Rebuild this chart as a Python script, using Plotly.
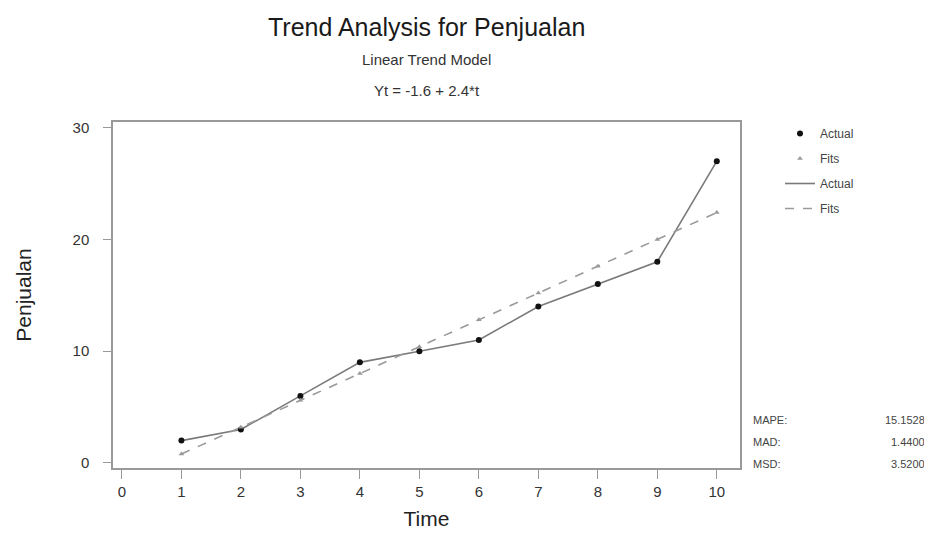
import plotly.graph_objects as go

time = [1, 2, 3, 4, 5, 6, 7, 8, 9, 10]
actual = [2, 3, 6, 9, 10, 11, 14, 16, 18, 27]
fits = [0.8, 3.2, 5.6, 8.0, 10.4, 12.8, 15.2, 17.6, 20.0, 22.4]
x_ticks = [0, 1, 2, 3, 4, 5, 6, 7, 8, 9, 10]
y_ticks = [0, 10, 20, 30]
stat_names = ["MAPE:", "MAD:", "MSD:"]
stat_values = ["15.1528", "1.4400", "3.5200"]

FONT = "Arial, Liberation Sans, sans-serif"
OFF = 8  # page body margin
W, H = 932 - OFF, 534 - OFF
# plot area in window pixels: x 113..740, y 122..468
L, T = 113 - OFF, 122 - OFF
R, B = W - (740 - OFF), H - (468 - OFF)
pw, ph = W - L - R, H - T - B


def xpix(p):
    return (p - OFF - L) / pw


def ypix(p):
    return 1 + (T - (p - OFF)) / ph


fig = go.Figure()
fig.add_trace(go.Scatter(x=time, y=actual, mode="lines", name="Actual",
                         line=dict(color="#7a7a7a", width=1.6), legendgroup="c", legendrank=3))
fig.add_trace(go.Scatter(x=time, y=fits, mode="lines", name="Fits",
                         line=dict(color="#9a9a9a", width=1.6, dash="dash"), legendgroup="d", legendrank=4))
fig.add_trace(go.Scatter(x=time, y=actual, mode="markers", name="Actual",
                         marker=dict(color="#111111", size=6, symbol="circle"), legendgroup="a", legendrank=1))
fig.add_trace(go.Scatter(x=time, y=fits, mode="markers", name="Fits",
                         marker=dict(color="#999999", size=5, symbol="triangle-up"), legendgroup="b", legendrank=2))

ann = [
    dict(text="Trend Analysis for Penjualan", y=ypix(27), font=dict(size=25, color="#1a1a1a", family=FONT)),
    dict(text="Linear Trend Model", y=ypix(59), font=dict(size=15, color="#333", family=FONT)),
    dict(text="Yt = -1.6 + 2.4*t", y=ypix(90), font=dict(size=15, color="#333", family=FONT)),
]
for a in ann:
    a.update(xref="paper", x=0.5, yref="paper", showarrow=False, xanchor="center", yanchor="middle")
for i, (n, v) in enumerate(zip(stat_names, stat_values)):
    yy = ypix(420 + 22 * i)
    ann.append(dict(text=n, xref="paper", x=xpix(751), yref="paper", y=yy, showarrow=False,
                    font=dict(size=11, color="#444", family=FONT), xanchor="left", yanchor="middle"))
    ann.append(dict(text=v, xref="paper", x=xpix(927), yref="paper", y=yy, showarrow=False,
                    font=dict(size=11, color="#444", family=FONT), xanchor="right", yanchor="middle"))

fig.update_layout(
    width=W, height=H,
    margin=dict(l=L, r=R, t=T, b=B, autoexpand=False),
    paper_bgcolor="white", plot_bgcolor="white",
    font=dict(family=FONT, color="#333"),
    showlegend=True,
    legend=dict(x=xpix(780), xanchor="left", y=ypix(119), yanchor="top",
                font=dict(size=12, color="#444", family=FONT), bgcolor="rgba(0,0,0,0)",
                traceorder="grouped", tracegroupgap=6),
    annotations=ann,
    xaxis=dict(range=[-0.15, 10.39], tickvals=x_ticks, ticks="outside", ticklen=9, tickcolor="#999",
               showline=True, linecolor="#999", linewidth=1.5, mirror=True, showgrid=False, zeroline=False,
               tickfont=dict(size=15, color="#333"), ticklabelstandoff=0, automargin=False,
               title=dict(text="Time", font=dict(size=21, color="#222"), standoff=13)),
    yaxis=dict(range=[-0.45, 30.5], tickvals=y_ticks, ticks="outside", ticklen=8, tickcolor="#999",
               showline=True, linecolor="#999", linewidth=1.5, mirror=True, showgrid=False, zeroline=False,
               tickfont=dict(size=15, color="#333"), ticklabelstandoff=11, automargin=False,
               title=dict(text="Penjualan", font=dict(size=21, color="#222"), standoff=35)),
)

fig.write_html("out.html")
